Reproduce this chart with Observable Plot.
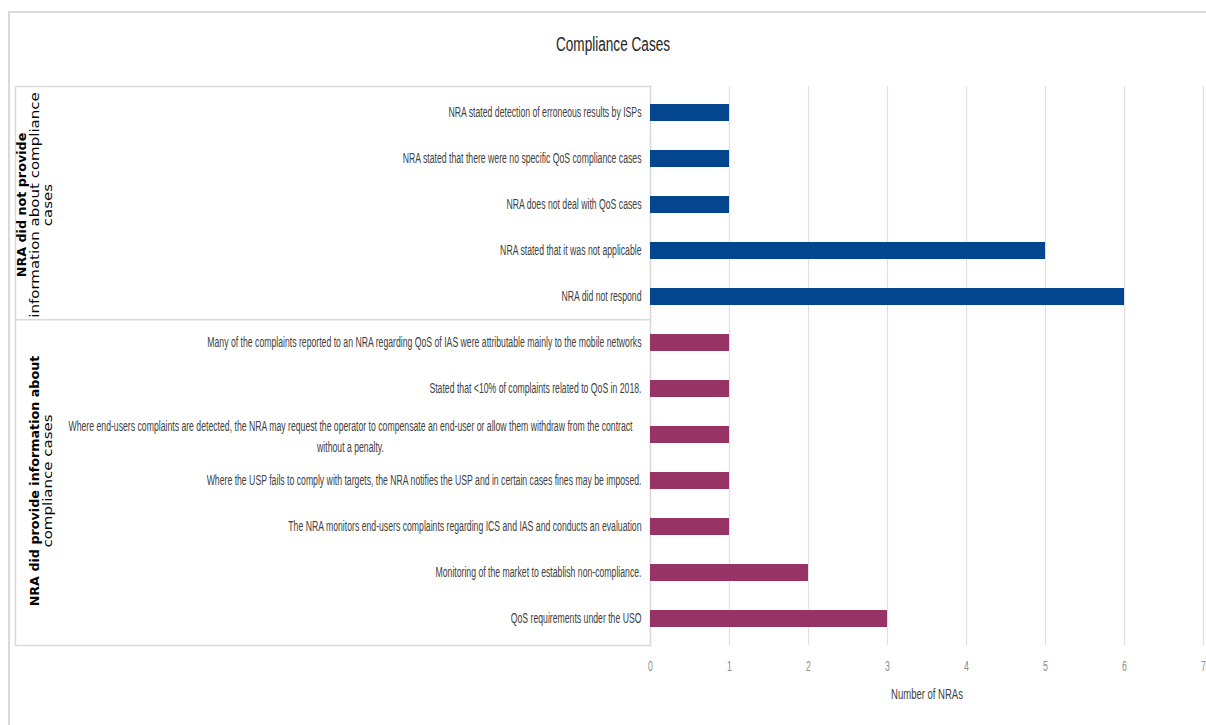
<!DOCTYPE html>
<html><head><meta charset="utf-8">
<script src="https://cdn.jsdelivr.net/npm/d3@7"></script>
<script src="https://cdn.jsdelivr.net/npm/@observablehq/plot@0.6"></script>
<style>
body{margin:0;background:#fff;}
#wrap{position:relative;width:1206px;height:725px;overflow:hidden;background:#fff;}
#border{position:absolute;left:8px;top:11px;width:1400px;height:900px;border:2px solid #d9d9d9;}
#title{position:absolute;left:10px;top:33px;width:1206px;text-align:center;font:20px "Liberation Sans",Arial,sans-serif;color:#262626;transform:scaleX(0.68);}
#chart{position:absolute;left:0;top:70px;}
</style></head><body>
<div id="wrap"><div id="border"></div><div id="title">Compliance Cases</div><div id="chart"></div></div>
<script>
const groupNames = [
  "NRA did not provide\ninformation about compliance\ncases",
  "NRA did provide information about\ncompliance cases"
];
const groupColors = ["#04458f", "#983365"];
const categories = [
  "NRA stated detection of erroneous results by ISPs",
  "NRA stated that there were no specific QoS compliance cases",
  "NRA does not deal with QoS cases",
  "NRA stated that it was not applicable",
  "NRA did not respond",
  "Many of the complaints reported to an NRA regarding QoS of IAS were attributable mainly to the mobile networks",
  "Stated that <10% of complaints related to QoS in 2018.",
  "Where end-users complaints are detected, the NRA may request the operator to compensate an end-user or allow them withdraw from the contract\nwithout a penalty.",
  "Where the USP fails to comply with targets, the NRA notifies the USP and in certain cases fines may be imposed.",
  "The NRA monitors end-users complaints regarding ICS and IAS and conducts an evaluation",
  "Monitoring of the market to establish non-compliance.",
  "QoS requirements under the USO"
];
const values = [1, 1, 1, 5, 6, 1, 1, 1, 1, 1, 2, 3];
const categoryGroup = [0, 0, 0, 0, 0, 1, 1, 1, 1, 1, 1, 1];
const xTicks = [0, 1, 2, 3, 4, 5, 6, 7];
const xTitle = "Number of NRAs";

const rows = categories.map((c, i) => ({category: c, value: values[i], group: groupNames[categoryGroup[i]]}));
const groupRows = groupNames.map((g, gi) => {
  const cats = categories.filter((c, i) => categoryGroup[i] === gi);
  return {label: g, mid: cats[Math.floor(cats.length / 2)], first: cats[0]};
});
const singleLabels = categories.filter(c => !c.includes("\n"));
const multiLabels = categories.filter(c => c.includes("\n"));

const W = 1206, H = 655, mL = 15, mR = 3, mT = 16, mB = 80, x0 = 650;
const step = (H - mT - mB) / categories.length;
const sans = '"Liberation Sans",Arial,sans-serif';
const lineColor = "#d9d9d9";

const chart = Plot.plot({
  width: W, height: H,
  marginLeft: mL, marginRight: mR, marginTop: mT, marginBottom: mB,
  style: {fontFamily: sans, fontSize: "14px", background: "transparent"},
  x: {domain: [xTicks[0], xTicks[xTicks.length - 1]], range: [x0, W - mR], axis: null},
  y: {domain: categories, paddingInner: 0.635, paddingOuter: 0.3175, axis: null},
  color: {domain: groupNames, range: groupColors},
  marks: [
    Plot.gridX(xTicks, {stroke: "#e0e0e0", strokeOpacity: 1, strokeWidth: 1.2}),
    Plot.frame({stroke: lineColor, strokeWidth: 1.5, insetRight: W - mR - x0}),
    Plot.ruleY(groupRows.slice(1), {y: "first", dy: -step / 2, stroke: lineColor, strokeWidth: 1.5, insetRight: W - mR - x0}),
    Plot.barX(rows, {x: "value", y: "category", fill: "group"}),
    Plot.text(singleLabels, {x: () => 0, y: d => d, text: d => d, textAnchor: "end", dx: -9, fill: "#404040", fontSize: 14}),
    Plot.text(multiLabels, {x: () => 0, y: d => d, text: d => d, textAnchor: "middle", dx: -300, lineHeight: 1.5, fill: "#404040", fontSize: 14}),
    Plot.axisX(xTicks, {tickSize: 0, tickPadding: 16, fill: "#8c8c8c", fontSize: 14, label: null}),
    Plot.text([xTitle], {x: () => (xTicks[0] + xTicks[xTicks.length - 1]) / 2, frameAnchor: "bottom", dy: 53, fill: "#404040", fontSize: 14}),
    Plot.text(groupRows, {y: "mid", text: "label", frameAnchor: "left", rotate: -90, dx: 36, lineAnchor: "bottom", textAnchor: "middle", lineHeight: 1.05, fontFamily: '"DejaVu Sans",sans-serif', fontSize: 12, fill: "#000"})
  ]
});
document.getElementById("chart").appendChild(chart);

// Condensed look of the original: scale glyph widths along the text direction
function fit(el, k) {
  const L = el.getComputedTextLength();
  if (L > 0) {
    el.setAttribute("textLength", L * k);
    el.setAttribute("lengthAdjust", "spacingAndGlyphs");
  }
}
chart.querySelectorAll("text").forEach(t => {
  const rotated = (t.getAttribute("transform") || "").includes("rotate");
  const spans = Array.from(t.querySelectorAll("tspan"));
  if (rotated) {
    spans.forEach((el, i) => {
      if (i === 0) {
        el.setAttribute("font-weight", "bold");
        fit(el, 1.06);
      } else {
        fit(el, 1.25);
      }
    });
    return;
  }
  const k = t.textContent === xTitle ? 0.68 : 0.62;
  (spans.length ? spans : [t]).forEach(el => fit(el, k));
});
</script>
</body></html>
